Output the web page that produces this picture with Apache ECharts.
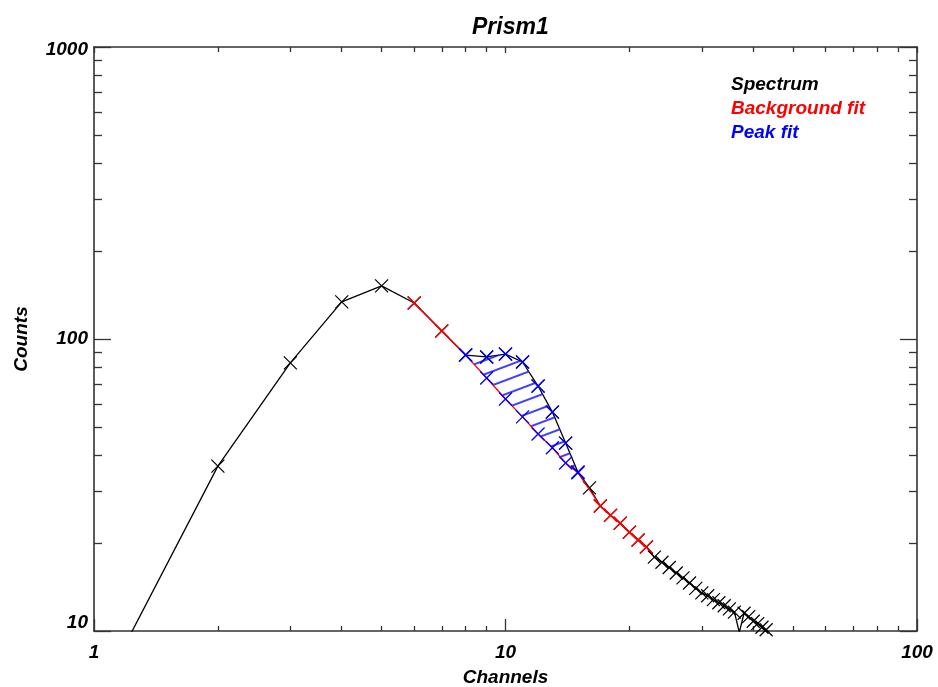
<!DOCTYPE html>
<html>
<head>
<meta charset="utf-8">
<title>Prism1</title>
<script src="https://cdn.jsdelivr.net/npm/echarts@6/dist/echarts.min.js"></script>
<style>
  html, body { margin: 0; padding: 0; background: #fff; }
  #chart { width: 938px; height: 687px; }
</style>
</head>
<body>
<div id="chart"></div>
<script>
  // spectrum (channels 1..45)
  var channels = [1, 2, 3, 4, 5, 6, 7, 8, 9, 10, 11, 12, 13, 14, 15, 16, 17, 18, 19, 20,
    21, 22, 23, 24, 25, 26, 27, 28, 29, 30, 31, 32, 33, 34, 35, 36, 37, 38, 39, 40,
    41, 42, 43, 44, 45];
  var counts = [5.6, 36.7, 82.8, 134, 152, 132.8, 106.5, 88.1, 86.8, 88.8, 83.4, 69.0, 56.2, 44.0, 35.0, 30.9, 26.8, 24.9, 23.4, 21.8,
    20.5, 19.4, 17.9, 17.2, 16.5, 15.8, 15.2, 14.6, 14.0, 13.5, 13.2, 12.8, 12.5, 12.2, 11.9, 11.6, 9.9, 11.5, 11.2, 10.8,
    10.6, 10.3, 10.1, 9.8, 9.6];

  // background fit
  var bgChannels = [6, 7, 8, 9, 10, 11, 12, 13, 14, 15, 16, 17, 18, 19, 20, 21, 22];
  var bgCounts = [132.8, 106.5, 88.1, 73.5, 62.3, 54.1, 47.3, 42.4, 37.6, 34.8, 30.5, 26.8, 24.9, 23.4, 21.8, 20.5, 19.4];
  var bgFitChannels = [6, 7, 17, 18, 19, 20, 21, 22];

  // peak region (top = spectrum, base = background)
  var peakChannels = [8, 9, 10, 11, 12, 13, 14, 15];
  var peakTop = [88.1, 86.8, 88.8, 83.4, 69.0, 56.2, 44.0, 35.0];
  var peakBase = [88.1, 73.5, 62.3, 54.1, 47.3, 42.4, 37.6, 34.8];

  // ticks
  var xMajor = [1, 10, 100];
  var xMinor = [2, 3, 4, 5, 6, 7, 8, 9, 20, 30, 40, 50, 60, 70, 80, 90];
  var yMajor = [10, 100, 1000];
  var yMinor = [20, 30, 40, 50, 60, 70, 80, 90, 200, 300, 400, 500, 600, 700, 800, 900];

  var CROSS = 'path://M0,0L1,1M1,0L0,1';
  var FONT = 'Liberation Sans';
  var axisColor = '#333';

  function tickAxis(pos, vals, len, withLine, extra) {
    var a = {
      type: 'log',
      logBase: 10,
      position: pos,
      axisLine: { show: withLine, lineStyle: { color: axisColor, width: 1.6 } },
      axisTick: { show: true, inside: true, length: len, customValues: vals, lineStyle: { color: axisColor, width: 1.3 } },
      axisLabel: { show: false },
      splitLine: { show: false },
      minorTick: { show: false }
    };
    for (var k in extra) a[k] = extra[k];
    return a;
  }

  var xr = { min: 1, max: 100 };
  var yr = { min: 10, max: 1000 };
  var labelFont = { fontFamily: FONT, fontSize: 19, fontWeight: 'bold', fontStyle: 'italic', color: '#000' };

  var xMain = tickAxis('bottom', xMajor, 12, true, xr);
  xMain.name = 'Channels';
  xMain.nameLocation = 'middle';
  xMain.nameGap = 37;
  xMain.nameTextStyle = labelFont;
  xMain.axisLabel = Object.assign({ show: true, margin: 12, customValues: xMajor, formatter: function (v) { return String(v); } }, labelFont);

  var yMain = tickAxis('left', yMajor, 17, true, yr);
  yMain.name = 'Counts';
  yMain.nameLocation = 'middle';
  yMain.nameGap = 63;
  yMain.nameTextStyle = labelFont;
  yMain.axisLabel = Object.assign({
    show: true,
    margin: 6,
    customValues: yMajor,
    formatter: function (v) {
      if (v <= 10) return '{lo|' + v + '}';
      if (v >= 1000) return '{hi|' + v + '}';
      return String(v);
    },
    rich: {
      lo: Object.assign({ padding: [0, 0, 16, 0] }, labelFont),
      hi: Object.assign({ padding: [6, 0, 0, 0] }, labelFont)
    }
  }, labelFont);

  function pairs(xs, ys) {
    return xs.map(function (x, i) { return [x, ys[i]]; });
  }

  var bgData = bgChannels.map(function (x, i) {
    var item = { value: [x, bgCounts[i]] };
    if (bgFitChannels.indexOf(x) < 0) item.symbol = 'none';
    return item;
  });

  // hatch pattern for the peak area
  var hc = document.createElement('canvas');
  hc.width = 12;
  hc.height = 13;
  var hctx = hc.getContext('2d');
  hctx.fillStyle = 'rgba(30,30,255,0.85)';
  hctx.fillRect(0, 0, 12, 2);
  var hatchFill = { image: hc, repeat: 'repeat', rotation: -0.36 };

  var chart = echarts.init(document.getElementById('chart'), null, { renderer: 'canvas' });

  var option = {
    animation: false,
    backgroundColor: '#fff',
    title: {
      text: 'Prism1',
      left: 467,
      top: 11,
      textStyle: { fontFamily: FONT, fontSize: 23, fontWeight: 'bold', fontStyle: 'italic', color: '#000' }
    },
    legend: {
      orient: 'vertical',
      left: 720,
      top: 68,
      itemWidth: 0,
      itemHeight: 0,
      itemGap: 0,
      selectedMode: false,
      textStyle: { fontFamily: FONT, fontSize: 19, fontWeight: 'bold', fontStyle: 'italic', lineHeight: 24 },
      data: [
        { name: 'Spectrum', textStyle: { color: '#000' } },
        { name: 'Background fit', textStyle: { color: '#ff0000' } },
        { name: 'Peak fit', textStyle: { color: '#0000ff' } }
      ]
    },
    grid: { left: 94, right: 21, top: 47, bottom: 56, containLabel: false, outerBoundsMode: 'none' },
    xAxis: [
      xMain,
      tickAxis('bottom', xMinor, 5, false, xr),
      tickAxis('top', xMajor, 6, true, xr),
      tickAxis('top', xMinor, 5, false, xr)
    ],
    yAxis: [
      yMain,
      tickAxis('left', yMinor, 8, false, yr),
      tickAxis('right', yMajor, 17, true, yr),
      tickAxis('right', yMinor, 8, false, yr)
    ],
    series: [
      {
        name: 'Spectrum',
        type: 'line',
        data: pairs(channels, counts),
        symbol: CROSS,
        symbolSize: 13,
        showAllSymbol: true,
        lineStyle: { color: '#000', width: 1.3 },
        itemStyle: { color: '#000', borderColor: '#000', borderWidth: 1.2 },
        z: 2
      },
      {
        name: 'Background fit',
        type: 'line',
        data: bgData,
        symbol: CROSS,
        symbolSize: 13,
        showAllSymbol: true,
        lineStyle: { color: '#ff0000', width: 1.3 },
        itemStyle: { color: '#ff0000', borderColor: '#ff0000', borderWidth: 1.3 },
        z: 3
      },
      {
        // hatched area between spectrum and background
        name: 'Peak fit',
        type: 'custom',
        data: [[peakChannels[0], peakTop[0]]],
        renderItem: function (params, api) {
          var pts = [];
          for (var i = 0; i < peakChannels.length; i++) {
            pts.push(api.coord([peakChannels[i], peakTop[i]]));
          }
          for (var j = peakChannels.length - 1; j >= 0; j--) {
            pts.push(api.coord([peakChannels[j], peakBase[j]]));
          }
          return {
            type: 'polygon',
            shape: { points: pts },
            style: { fill: hatchFill, stroke: null }
          };
        },
        z: 3
      },
      {
        name: 'Peak fit',
        type: 'line',
        data: pairs(peakChannels, peakTop),
        symbol: CROSS,
        symbolSize: 13,
        lineStyle: { width: 0, opacity: 0 },
        itemStyle: { color: '#0000ff', borderColor: '#0000ff', borderWidth: 1.3 },
        z: 4
      },
      {
        name: 'Peak fit',
        type: 'line',
        data: pairs(peakChannels, peakBase),
        symbol: CROSS,
        symbolSize: 13,
        lineStyle: { width: 0, opacity: 0 },
        itemStyle: { color: '#0000ff', borderColor: '#0000ff', borderWidth: 1.3 },
        z: 4
      }
    ]
  };

  chart.setOption(option);
</script>
</body>
</html>
